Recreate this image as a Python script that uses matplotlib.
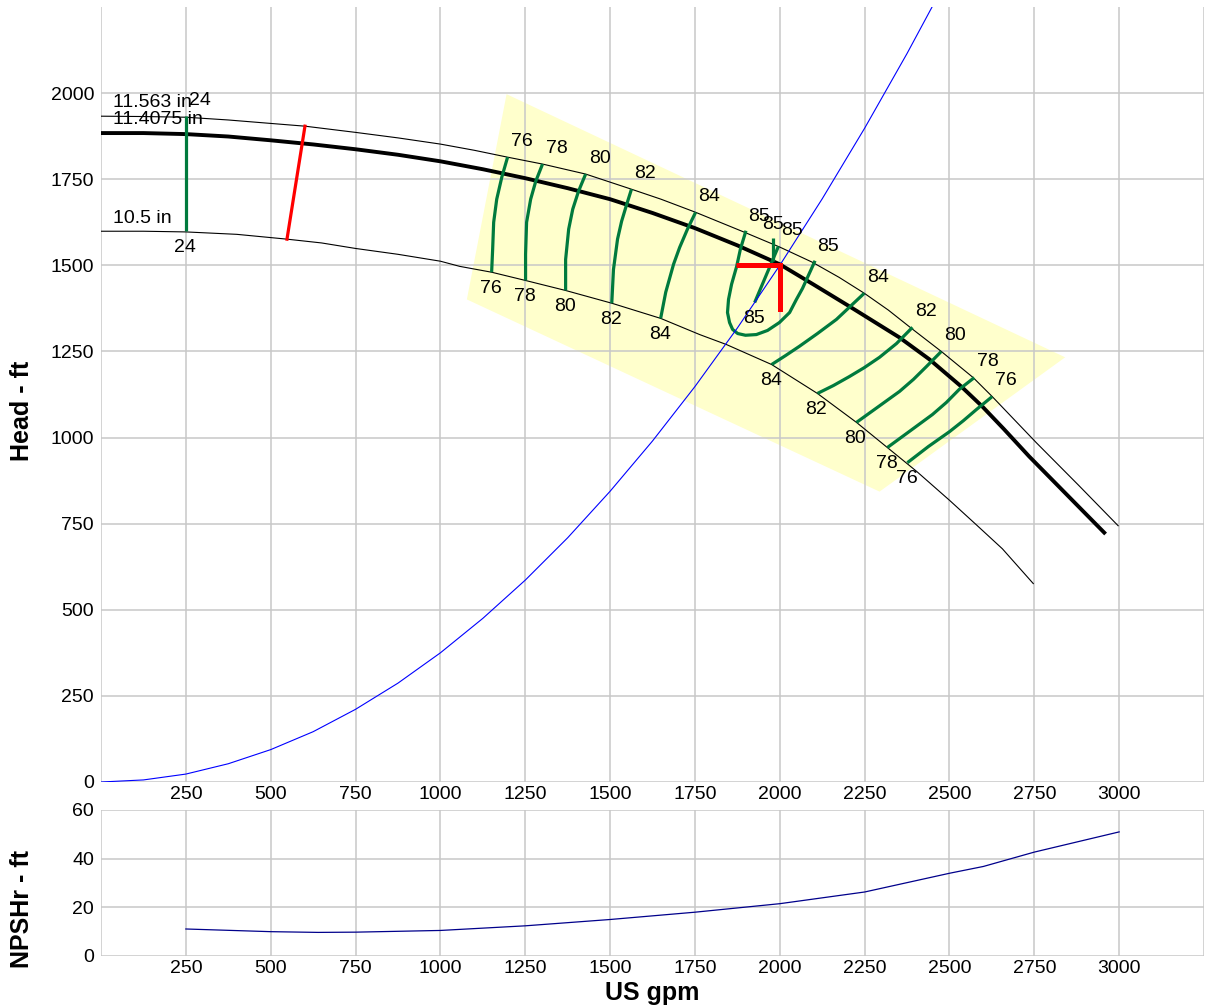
import matplotlib
matplotlib.use("Agg")
import matplotlib.pyplot as plt
from matplotlib.patches import Polygon

plt.rcParams["font.family"] = ["Liberation Sans", "DejaVu Sans"]

# Impeller head curves (US gpm, ft)
max_q = [0, 125, 250, 375, 500, 601, 750, 875, 1000, 1100, 1198, 1301, 1428, 1563,
         1650, 1752, 1896, 2000, 2096, 2175, 2249, 2320, 2388, 2476, 2570, 2626,
         2690, 2756, 2880, 2997]
max_h = [1933, 1932, 1930, 1922, 1912, 1904, 1886, 1870, 1852, 1834, 1814, 1794, 1765,
         1721, 1692, 1654, 1596, 1553, 1509, 1465, 1419, 1370, 1317, 1250, 1174, 1119,
         1053, 985, 862, 744]

sel_q = [0, 125, 250, 375, 500, 625, 750, 875, 1000, 1125, 1250, 1375, 1500, 1625,
         1750, 1875, 2000, 2100, 2205, 2352, 2441, 2535, 2597, 2660, 2735, 2850, 2956]
sel_h = [1884, 1884, 1881, 1874, 1863, 1851, 1837, 1821, 1802, 1779, 1753, 1724, 1692,
         1652, 1608, 1558, 1503, 1444, 1381, 1291, 1227, 1148, 1090, 1025, 945, 830, 724]

min_q = [0, 125, 250, 400, 548, 650, 750, 875, 1000, 1057, 1151, 1251, 1369, 1505,
         1649, 1764, 1843, 1976, 2111, 2226, 2317, 2403, 2500, 2580, 2656, 2747]
min_h = [1599, 1599, 1597, 1590, 1576, 1565, 1549, 1532, 1512, 1497, 1480, 1456, 1427,
         1390, 1346, 1299, 1270, 1212, 1128, 1044, 971, 902, 818, 746, 677, 576]

impeller_labels = ["11.563 in", "11.4075 in", "10.5 in"]

# System curve
sys_q = [0, 125, 250, 375, 500, 625, 750, 875, 1000, 1125, 1250, 1375, 1500, 1625,
         1750, 1875, 2000, 2125, 2250, 2375, 2500]
sys_h = [0, 6, 23, 53, 94, 146, 211, 287, 375, 475, 586, 709, 844, 990, 1148, 1318,
         1500, 1693, 1898, 2115, 2344]

# Duty point
duty_q, duty_h = 2000, 1500
duty_arm_q = 1870
duty_arm_h = 1372

# Minimum flow line
minflow_q = [548, 601]
minflow_h = [1576, 1904]

# Preferred operating region
region_q = [1195, 2841, 2294, 1078]
region_h = [1997, 1233, 843, 1401]

# Efficiency contours, each listed from the 10.5 in curve up to the 11.563 in curve
eff24_q = [250, 250]
eff24_h = [1599, 1933]

left_eff = [76, 78, 80, 82, 84]
left_q = [
    [1151, 1154, 1157, 1166, 1181, 1198],
    [1251, 1251, 1254, 1266, 1281, 1301],
    [1369, 1369, 1378, 1390, 1407, 1428],
    [1505, 1510, 1522, 1534, 1549, 1563],
    [1649, 1664, 1687, 1705, 1728, 1752],
]
left_h = [
    [1480, 1547, 1625, 1692, 1756, 1814],
    [1456, 1532, 1625, 1692, 1744, 1794],
    [1427, 1517, 1605, 1663, 1715, 1765],
    [1390, 1488, 1576, 1628, 1677, 1721],
    [1346, 1422, 1503, 1552, 1605, 1654],
]

right_eff = [84, 82, 80, 78, 76]
right_q = [
    [1976, 2017, 2058, 2111, 2167, 2208, 2249],
    [2111, 2158, 2205, 2249, 2294, 2344, 2391],
    [2226, 2291, 2353, 2394, 2432, 2476],
    [2317, 2385, 2450, 2491, 2529, 2573],
    [2376, 2438, 2500, 2541, 2579, 2626],
]
right_h = [
    [1212, 1238, 1265, 1302, 1343, 1381, 1419],
    [1128, 1151, 1177, 1203, 1233, 1273, 1320],
    [1044, 1090, 1134, 1169, 1206, 1250],
    [971, 1020, 1067, 1102, 1140, 1174],
    [927, 974, 1017, 1049, 1081, 1119],
]

# 85 % island
loop85_q = [1899, 1884, 1873, 1858, 1849, 1846, 1852, 1861, 1876, 1899, 1931, 1964,
            1999, 2029, 2049, 2067, 2079, 2091, 2102]
loop85_h = [1596, 1547, 1497, 1445, 1401, 1363, 1334, 1314, 1302, 1297, 1299, 1311,
            1334, 1363, 1401, 1433, 1459, 1485, 1509]
stub85_q = [1979, 1979]
stub85_h = [1512, 1578]
diag85_q = [1926, 1996]
diag85_h = [1392, 1555]

# NPSHr curve
npsh_q = [250, 500, 640, 750, 1000, 1250, 1500, 1750, 2000, 2250, 2500, 2600, 2750, 3000]
npsh_h = [11.1, 10.0, 9.7, 9.8, 10.5, 12.4, 15.0, 18.0, 21.5, 26.3, 34.0, 36.8, 42.7, 51.0]

x_ticks = list(range(0, 3251, 250))
x_ticklabels = ["" if t in (0, 3250) else str(t) for t in x_ticks]

GREEN = "#007a3d"
GRID = "#c8c8c8"
FS = 14

W, H = 1208, 1008
fig = plt.figure(figsize=(W / 100, H / 100), dpi=100)
ax = fig.add_axes([101 / W, 1 - 782 / H, 1103 / W, 775 / H])
ax2 = fig.add_axes([101 / W, 1 - 956 / H, 1103 / W, 146 / H])

for a in (ax, ax2):
    for s in a.spines.values():
        s.set_visible(False)
    a.set_xlim(0, 3250)
    a.set_xticks(x_ticks)
    a.set_xticklabels(x_ticklabels)
    a.grid(True, color=GRID, linewidth=1.1)
    a.set_axisbelow(True)
    a.tick_params(length=0, labelsize=FS)
    a.tick_params(axis="x", pad=3)
    a.tick_params(axis="y", pad=5)

ax.set_ylim(0, 2250)
ax.set_yticks(range(0, 2001, 250))
ax2.set_ylim(0, 60)
ax2.set_yticks([0, 20, 40, 60])

# Preferred operating region
ax.add_patch(Polygon(list(zip(region_q, region_h)), closed=True,
                     facecolor="#ffffcc", edgecolor="none", zorder=0.2))

# Head curves
ax.plot(max_q, max_h, color="black", lw=0.8, zorder=3)
ax.plot(sel_q, sel_h, color="black", lw=2.8, zorder=3)
ax.plot(min_q, min_h, color="black", lw=0.8, zorder=3)
for q, h, txt in zip((max_q, sel_q, min_q), (max_h, sel_h, min_h), impeller_labels):
    ax.annotate(txt, (q[0], h[0]), xytext=(8.5, 9.5), textcoords="offset points",
                ha="left", va="center", fontsize=FS, zorder=5)

# System curve
ax.plot(sys_q, sys_h, color="#0000ff", lw=0.8, zorder=4)

TOP_OFF = (10, 11.5)
BOT_OFF = (-0.7, -11.5)


def eff_line(q, h, label, top=True, bottom=True, top_off=TOP_OFF):
    ax.plot(q, h, color=GREEN, lw=2.3, solid_capstyle="butt", zorder=3.5)
    if bottom:
        ax.annotate(str(label), (q[0], h[0]), xytext=BOT_OFF, textcoords="offset points",
                    ha="center", va="center", fontsize=FS, zorder=5)
    if top:
        ax.annotate(str(label), (q[-1], h[-1]), xytext=top_off, textcoords="offset points",
                    ha="center", va="center", fontsize=FS, zorder=5)


eff_line(eff24_q, eff24_h, 24)
for e, q, h in zip(left_eff, left_q, left_h):
    eff_line(q, h, e)
for e, q, h in zip(right_eff, right_q, right_h):
    eff_line(q, h, e)

# 85 island: loop ends both sit on the max diameter curve
ax.plot(loop85_q, loop85_h, color=GREEN, lw=2.3, zorder=3.5)
for i in (0, -1):
    ax.annotate("85", (loop85_q[i], loop85_h[i]), xytext=TOP_OFF, textcoords="offset points",
                ha="center", va="center", fontsize=FS, zorder=5)
eff_line(stub85_q, stub85_h, 85, bottom=False, top_off=(0, 10))
eff_line(diag85_q, diag85_h, 85)

# Minimum flow and duty point markers
ax.plot(minflow_q, minflow_h, color="#ff0000", lw=2.3, zorder=4)
ax.plot([duty_arm_q, duty_q], [duty_h, duty_h], color="#ff0000", lw=3.6,
        solid_capstyle="butt", zorder=4.5)
ax.plot([duty_q, duty_q], [duty_h, duty_arm_h], color="#ff0000", lw=3.6,
        solid_capstyle="projecting", zorder=4.5)

# NPSHr
ax2.plot(npsh_q, npsh_h, color="#00008b", lw=0.9)

fig.text(22 / W, 1 - 411 / H, "Head - ft", rotation=90, ha="center", va="center",
         fontsize=18, fontweight="bold")
fig.text(22 / W, 1 - 909 / H, "NPSHr - ft", rotation=90, ha="center", va="center",
         fontsize=18, fontweight="bold")
fig.text(652 / W, 1 - 993 / H, "US gpm", ha="center", va="center",
         fontsize=18, fontweight="bold")

fig.savefig("out.png", dpi=100)
plt.close(fig)
